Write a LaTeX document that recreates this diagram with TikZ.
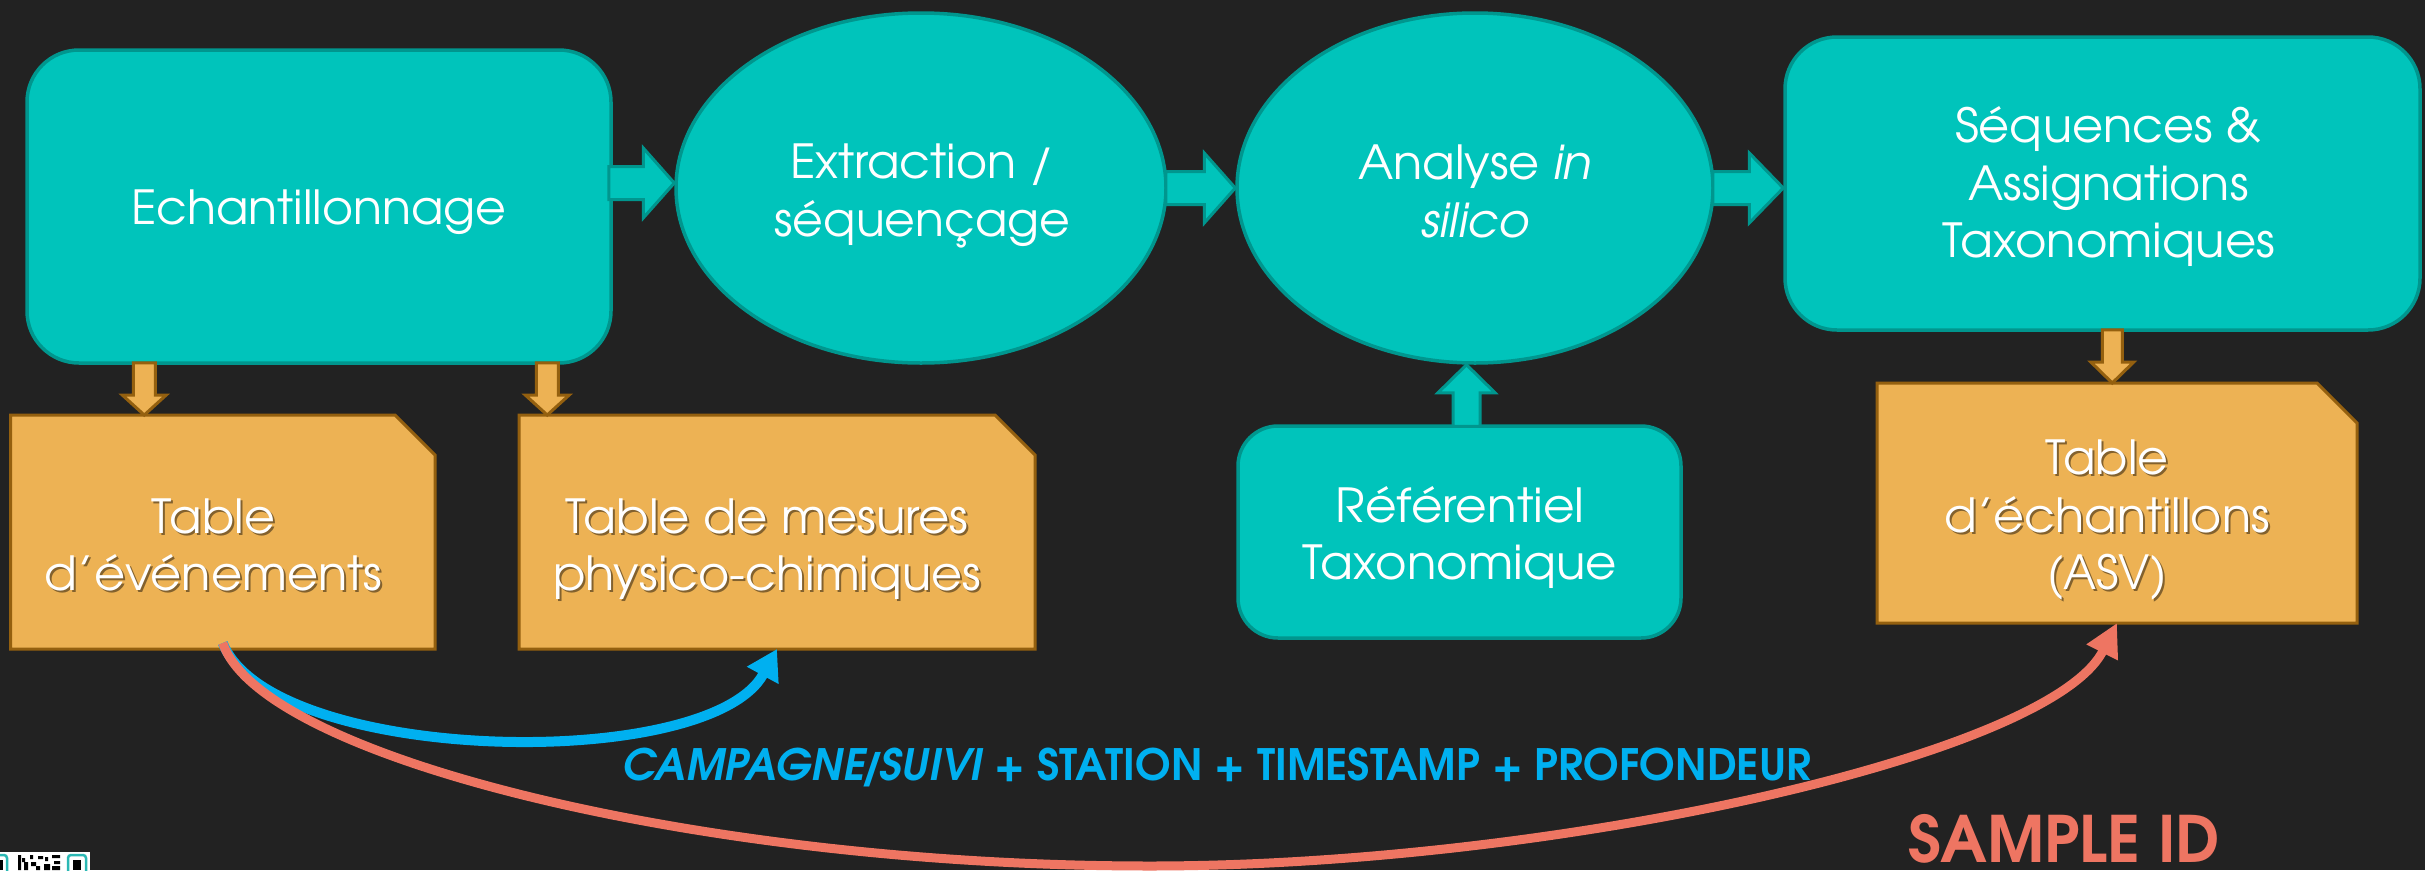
\documentclass[tikz,border=0pt]{standalone}
\usepackage{fontspec}
\usepackage{graphicx}
\IfFontExistsTF{texgyreadventor-regular.otf}{%
  \setmainfont{texgyreadventor}[Extension=.otf,UprightFont=*-regular,BoldFont=*-bold,ItalicFont=*-italic,BoldItalicFont=*-bolditalic]}{%
  \setmainfont{Poppins}}
\usetikzlibrary{shapes.geometric,arrows.meta,calc}

\definecolor{bgdark}{HTML}{222222}
\definecolor{tealfill}{HTML}{00C4BB}
\definecolor{tealedge}{HTML}{00968E}
\definecolor{tablefill}{HTML}{EDB254}
\definecolor{tableedge}{HTML}{94600F}
\definecolor{keyblue}{HTML}{00B0F0}
\definecolor{keyred}{HTML}{EE7562}
\definecolor{qrteal}{HTML}{2BB8B4}

% one text line set to a given width (pt), height kept
\newcommand{\fitline}[2]{\resizebox{#1pt}{\height}{#2}}
% block arrow pointing right: style, tail, tip (same y), shaft half-width, head half-width, head length
\newcommand{\harrowshape}[6]{%
  \draw[#1] ($#2+(0,-#4)$) -- ($#3+(-#6,-#4)$) -- ($#3+(-#6,-#5)$) -- #3
    -- ($#3+(-#6,#5)$) -- ($#3+(-#6,#4)$) -- ($#2+(0,#4)$) -- cycle;}
% vertical block arrow: style, tail, tip (same x), shaft half-width, head half-width, head length, 1 = down / -1 = up
\newcommand{\varrowshape}[7]{%
  \draw[#1] ($#2+(-#4,0)$) -- ($#3+({-#4},{-(#7)*(#6)})$) -- ($#3+({-#5},{-(#7)*(#6)})$) -- #3
    -- ($#3+({#5},{-(#7)*(#6)})$) -- ($#3+({#4},{-(#7)*(#6)})$) -- ($#2+(#4,0)$) -- cycle;}

\begin{document}
\begin{tikzpicture}[x=1pt, y=-1pt,
  lbl/.style={text=white, font=\fontsize{47}{57.5}\selectfont, align=center, inner sep=0pt},
  lblshadow/.style={lbl, text=black, opacity=0.45},
  procbox/.style={draw=tealedge, fill=tealfill, line width=3.5pt, inner sep=0pt, rounded corners=52pt},
  procoval/.style={ellipse, draw=tealedge, fill=tealfill, line width=3.5pt, inner sep=0pt},
  tableframe/.style={inner sep=0pt, outer sep=0pt, draw=none},
  tableshape/.style={draw=tableedge, fill=tablefill, line width=3pt},
  tealarrow/.style={draw=tealedge, fill=tealfill, line width=3pt},
  orangearrow/.style={draw=tableedge, fill=tablefill, line width=3pt},
  bluelink/.style={draw=keyblue, line width=10pt, -{Triangle[length=30pt,width=34pt]}},
  redlink/.style={draw=keyred, line width=9pt, -{Triangle[length=33pt,width=33pt]}},
]
\useasboundingbox (0,0) rectangle (2425,870);
\fill[bgdark] (0,0) rectangle (2425,870);

% process steps
\node[procbox, minimum width=584pt, minimum height=313pt] (ech) at (319,206.5) {};
\node[procoval, minimum width=490pt, minimum height=350pt] (ext) at (921,188) {};
\node[procoval, minimum width=476pt, minimum height=350pt] (ana) at (1475,188) {};
\node[procbox, minimum width=635pt, minimum height=293pt] (seq) at (2102.5,183.5) {};
\node[procbox, rounded corners=40pt, minimum width=443pt, minimum height=212pt] (ref) at (1459.5,532) {};

% tables (sheet with a cut corner)
\node[tableframe, minimum width=424.5pt, minimum height=234pt] (tev) at (222.75,532) {};
\node[tableframe, minimum width=516pt, minimum height=234pt] (tmp) at (777,532) {};
\node[tableframe, minimum width=480pt, minimum height=240pt] (tas) at (2117,503) {};
\foreach \t in {tev,tmp,tas}
  \draw[tableshape] (\t.north west) -- ($(\t.north east)+(-40,0)$) -- ($(\t.north east)+(0,40)$)
    -- (\t.south east) -- (\t.south west) -- cycle;

% labels
\node[lbl] (echt) at (319,212) {\fitline{375}{Echantillonnage}};
\node[lbl] (extt) at (922,195.75) {\fitline{264}{Extraction /}\\\fitline{296}{séquençage}};
\node[lbl] (anat) at (1475,191.5) {\fitline{233.5}{Analyse \textit{in}}\\\fitline{108}{\textit{silico}}};
\node[lbl] (seqt) at (2108.5,186.75) {\fitline{307}{Séquences \&}\\\fitline{280}{Assignations}\\\fitline{333}{Taxonomiques}};
\node[lbl] (reft) at (1460,537.75) {\fitline{249}{Référentiel}\\\fitline{314.5}{Taxonomique}};

\node[lblshadow] (tevs) at (215.5,547) {\fitline{123}{Table}\\\fitline{337}{d’événements}};
\node[lbl] (tevt) at (213.5,545) {\fitline{123}{Table}\\\fitline{337}{d’événements}};
\node[lblshadow] (tmps) at (769,551) {\fitline{403}{Table de mesures}\\\fitline{428}{physico-chimiques}};
\node[lbl] (tmpt) at (767,549) {\fitline{403}{Table de mesures}\\\fitline{428}{physico-chimiques}};
\node[lblshadow] (tass) at (2109,522) {\fitline{123}{Table}\\\fitline{325}{d’échantillons}\\\fitline{119}{(ASV)}};
\node[lbl] (tast) at (2107,520) {\fitline{123}{Table}\\\fitline{325}{d’échantillons}\\\fitline{119}{(ASV)}};

% block arrows between steps
\coordinate (a1t) at ($(ext.west)+(0,-5)$);
\coordinate (a1) at ($(ech.east |- a1t)+(-4,0)$);
\harrowshape{tealarrow}{(a1)}{(a1t)}{16.5}{35}{31}
\coordinate (a2) at ($(ext.east)+(-2,0)$);
\harrowshape{tealarrow}{(a2)}{(ana.west)}{16.5}{35}{31}
\coordinate (a3) at ($(ana.east)+(-2,0)$);
\harrowshape{tealarrow}{(a3)}{(seq.west |- ana.east)}{16.5}{35}{34}
\coordinate (a4) at ($(ref.north)+(7,2)$);
\varrowshape{tealarrow}{(a4)}{(a4 |- ana.south)}{13.5}{28.5}{28}{-1}

\coordinate (b1) at ($(ech.south west)+(119,-2)$);
\varrowshape{orangearrow}{(b1)}{(b1 |- tev.north)}{11}{22}{20}{1}
\coordinate (b2) at ($(ech.south west)+(522,-2)$);
\varrowshape{orangearrow}{(b2)}{(b2 |- tmp.north)}{11}{22}{20}{1}
\coordinate (b3) at ($(seq.south west)+(329,-2)$);
\varrowshape{orangearrow}{(b3)}{(b3 |- tas.north)}{10}{21.5}{21}{1}

% key links between tables
\coordinate (linkstart) at ($(tev.south)+(0,-6)$);
\draw[bluelink] (linkstart) .. controls +(48,121) and +(-68,125) .. (tmp.south);
\coordinate (redlow) at (1150,866);
\draw[redlink] (linkstart) .. controls +(38,114) and +(-450,0) .. (redlow)
  .. controls +(400,0) and +(-67.5,133.5) .. (tas.south);

\node[anchor=base west, inner sep=0pt, text=keyblue, font=\fontsize{43.2}{50}\selectfont\bfseries] (keys) at (622,780)
  {\resizebox{1189pt}{\height}{{\itshape CAMPAGNE\kern-5pt/\kern-5pt SUIVI} + STATION + TIMESTAMP + PROFONDEUR}};
\node[anchor=base west, inner sep=0pt, text=keyred, font=\fontsize{64}{70}\selectfont\bfseries] (sid) at (1908,862)
  {\resizebox{312pt}{\height}{SAMPLE ID}};

% code badge in the corner
\fill[white] (0,852) rectangle (90,870);
\draw[qrteal, line width=2.5pt, rounded corners=3pt] (-8,855) rectangle (7,878);
\fill[black] (-2,860) rectangle (3,870);
\draw[qrteal, line width=2.5pt, rounded corners=3pt] (68,855) rectangle (86,878);
\fill[black] (73,860) rectangle (81,870);
\fill[black] (18,855) rectangle (21,870) (22,858) rectangle (25,862) (24,862) rectangle (28,870)
  (30,855) rectangle (33,859) (31,862) rectangle (36,866) (38,856) rectangle (43,859)
  (36,866) rectangle (40,870) (45,857) rectangle (48,861) (44,864) rectangle (50,870)
  (52,855) rectangle (60,858) (54,861) rectangle (60,864) (52,866) rectangle (60,870);
\end{tikzpicture}
\end{document}
